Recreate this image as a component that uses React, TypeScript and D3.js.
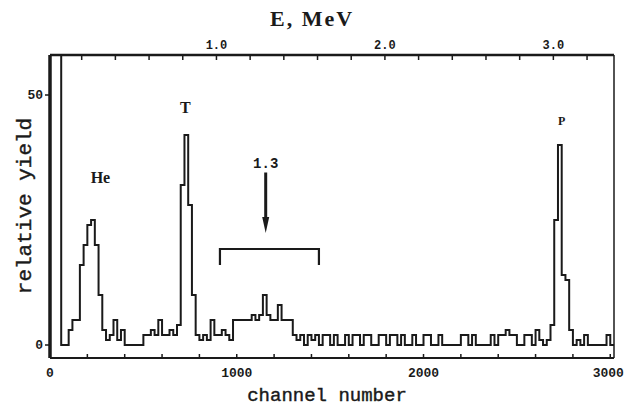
import React from "react";
import * as d3 from "d3";

// ---- data ----
const BIN_WIDTH = 20; // channels per bin
const counts: number[] = [
  80, 80, 80, 0, 0, 3, 5, 5, 16, 20, // 0-9
  24, 25, 20, 10, 3, 1, 2, 5, 1, 3, // 10-19
  0, 0, 0, 0, 0, 2, 2, 3, 2, 5, // 20-29
  2, 2, 3, 2, 4, 32, 42, 28, 10, 2, // 30-39
  1, 2, 1, 5, 2, 2, 3, 2, 1, 5, // 40-49
  5, 5, 5, 5, 6, 5, 6, 10, 6, 5, // 50-59
  5, 8, 5, 5, 5, 2, 1, 2, 0, 2, // 60-69
  1, 2, 0, 2, 2, 0, 2, 0, 0, 2, // 70-79
  0, 2, 2, 0, 2, 2, 0, 0, 2, 2, // 80-89
  0, 2, 2, 0, 2, 0, 0, 2, 0, 0, // 90-99
  2, 2, 0, 0, 2, 0, 0, 0, 0, 0, // 100-109
  2, 2, 0, 2, 0, 0, 0, 0, 2, 0, // 110-119
  2, 2, 3, 2, 2, 0, 0, 2, 2, 0, // 120-129
  3, 1, 0, 1, 4, 25, 40, 14, 13, 3, // 130-139
  0, 1, 0, 2, 0, 0, 0, 0, 0, 2, // 140-149
  0, // 150
];
const channelTicks = [0, 1000, 2000, 3000];
const channelMinorTicks = d3.range(200, 3001, 200);
const yieldTicks = [0, 50];
const energyLabels = [1.0, 2.0, 3.0];
const energyTicks = d3.range(0.2, 3.3, 0.2);
const peakLabels = [
  { text: "He", channel: 270, value: 32.5, size: 16 },
  { text: "T", channel: 725, value: 46.5, size: 16 },
  { text: "P", channel: 2740, value: 44, size: 12 },
];

// ---- layout ----
const W = 629;
const H = 406;
const L = 50, R = 614, T = 55, B = 358;

export default function App() {
  const x = d3.scaleLinear().domain([0, 3020]).range([L, R]);
  const y = d3.scaleLinear().domain([-2.6, 58]).range([B, T]);
  const xe = d3.scaleLinear().domain([0, 3.36]).range([48, R]);

  const pts: [number, number][] = counts.map((c, i) => [i * BIN_WIDTH, c]);
  pts.push([counts.length * BIN_WIDTH, counts[counts.length - 1]]);
  const line = d3
    .line<[number, number]>()
    .x((d) => x(d[0]))
    .y((d) => y(d[1]))
    .curve(d3.curveStepAfter);

  const ink = "#1a1a1a";
  const mono = "'Liberation Mono', 'DejaVu Sans Mono', monospace";
  const serif = "'Liberation Serif', 'DejaVu Serif', serif";

  // annotation geometry (data space)
  const arrowCh = 1155;
  const bracketL = 910, bracketR = 1440;
  const ax = x(arrowCh);
  const tipY = y(22.4);
  const baseY = y(25.6);

  return (
    <svg
      width={W}
      height={H}
      style={{ position: "absolute", left: 0, top: 0, background: "#fff" }}
    >
      <defs>
        <clipPath id="plot">
          <rect x={L} y={T} width={R - L} height={B - T} />
        </clipPath>
      </defs>

      {/* spectrum */}
      <path
        d={line(pts) || ""}
        fill="none"
        stroke={ink}
        strokeWidth={2}
        clipPath="url(#plot)"
      />

      {/* frame */}
      <line x1={L} x2={L} y1={T} y2={B} stroke={ink} strokeWidth={3.5} />
      <line x1={L} x2={R} y1={T} y2={T} stroke={ink} strokeWidth={2.5} />
      <line x1={R} x2={R} y1={T} y2={B} stroke={ink} strokeWidth={1.5} />
      <line x1={L} x2={R} y1={B} y2={B} stroke={ink} strokeWidth={2} />

      {/* bottom ticks (inward) */}
      {channelMinorTicks.map((t) => (
        <line key={"bt" + t} x1={x(t)} x2={x(t)} y1={B} y2={B - 4} stroke={ink} strokeWidth={1.5} />
      ))}
      {channelTicks.map((t) => (
        <text
          key={"bl" + t}
          x={x(t) + (t === 3000 ? -2 : 0)}
          y={B + 19}
          textAnchor="middle"
          fontFamily={mono}
          fontWeight="bold"
          fontSize={13}
          fill={ink}
        >
          {t}
        </text>
      ))}

      {/* left ticks (outward) */}
      {yieldTicks.map((t) => (
        <g key={"yt" + t}>
          <line x1={L - 5} x2={L} y1={y(t)} y2={y(t)} stroke={ink} strokeWidth={1.5} />
          <text
            x={L - 7}
            y={y(t) + 4}
            textAnchor="end"
            fontFamily={mono}
            fontWeight="bold"
            fontSize={13}
            fill={ink}
          >
            {t}
          </text>
        </g>
      ))}

      {/* top energy axis */}
      {energyTicks.map((e) => (
        <line key={"et" + e.toFixed(1)} x1={xe(e)} x2={xe(e)} y1={T} y2={T + 5} stroke={ink} strokeWidth={1.5} />
      ))}
      {energyLabels.map((e) => (
        <text
          key={"el" + e}
          x={xe(e)}
          y={T - 6}
          textAnchor="middle"
          fontFamily={mono}
          fontWeight="bold"
          fontSize={12}
          fill={ink}
        >
          {e.toFixed(1)}
        </text>
      ))}
      <text
        x={312}
        y={26}
        textAnchor="middle"
        fontFamily={serif}
        fontWeight="bold"
        fontSize={22}
        letterSpacing={2}
        fill={ink}
      >
        E, MeV
      </text>

      {/* axis titles */}
      <text
        x={327}
        y={401}
        textAnchor="middle"
        fontFamily={mono}
        fontSize={19}
        fill={ink}
        stroke={ink}
        strokeWidth={0.4}
      >
        channel number
      </text>
      <text
        transform={`translate(31, 206) rotate(-90)`}
        textAnchor="middle"
        fontFamily={mono}
        fontSize={21}
        fill={ink}
        stroke={ink}
        strokeWidth={0.4}
      >
        relative yield
      </text>

      {/* peak labels */}
      {peakLabels.map((p) => (
        <text
          key={p.text}
          x={x(p.channel)}
          y={y(p.value)}
          textAnchor="middle"
          fontFamily={serif}
          fontWeight="bold"
          fontSize={p.size}
          fill={ink}
        >
          {p.text}
        </text>
      ))}

      {/* 1.3 MeV annotation */}
      <text
        x={ax}
        y={y(35.5)}
        textAnchor="middle"
        fontFamily={mono}
        fontWeight="bold"
        fontSize={14}
        fill={ink}
      >
        1.3
      </text>
      <line
        x1={ax}
        x2={ax}
        y1={y(34.5)}
        y2={baseY}
        stroke={ink}
        strokeWidth={3}
      />
      <path
        d={`M${ax - 3.5},${baseY} L${ax + 3.5},${baseY} L${ax},${tipY} Z`}
        fill={ink}
      />
      <path
        d={`M${x(bracketL)},${y(16)} L${x(bracketL)},${y(19.2)} L${x(bracketR)},${y(19.2)} L${x(bracketR)},${y(16)}`}
        fill="none"
        stroke={ink}
        strokeWidth={2.2}
      />
    </svg>
  );
}
